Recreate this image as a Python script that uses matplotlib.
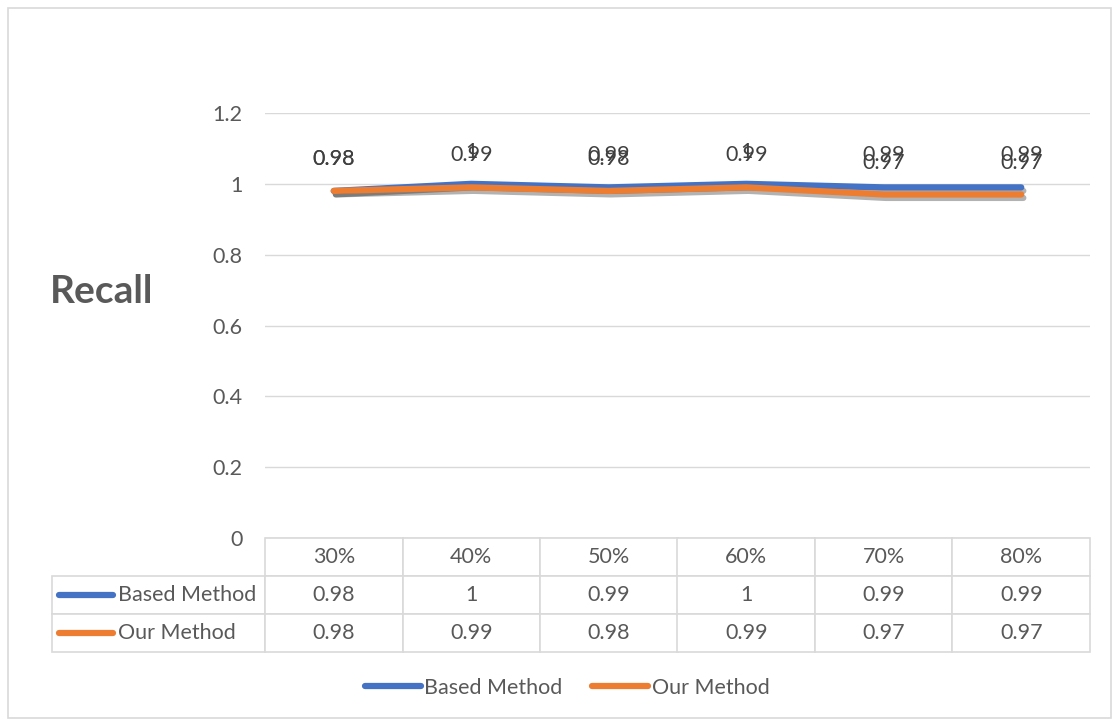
import matplotlib

matplotlib.use("Agg")
import matplotlib.pyplot as plt
import matplotlib.patheffects as pe
from matplotlib.lines import Line2D
from matplotlib.patches import Rectangle

categories = ["30%", "40%", "50%", "60%", "70%", "80%"]
based_method = [0.98, 1, 0.99, 1, 0.99, 0.99]
our_method = [0.98, 0.99, 0.98, 0.99, 0.97, 0.97]
series_names = ["Based Method", "Our Method"]
series_colors = ["#4472C4", "#ED7D31"]
y_ticks = [0, 0.2, 0.4, 0.6, 0.8, 1, 1.2]

plt.rcParams["font.family"] = ["Lato", "DejaVu Sans"]
TXT = "#595959"
GRID = "#d9d9d9"
FS = 15.5

W, H = 1112, 719
fig = plt.figure(figsize=(W / 100, H / 100), dpi=100)

# outer chart frame
fig.patches.append(Rectangle((8 / W, 1 - 718 / H), 1103 / W, 710 / H, transform=fig.transFigure,
                             fill=False, edgecolor=GRID, lw=1.2))

x0, x1, ytop, ybot = 265, 1090, 113, 538
ax = fig.add_axes([x0 / W, 1 - ybot / H, (x1 - x0) / W, (ybot - ytop) / H])
ax.set_xlim(-0.5, len(categories) - 0.5)
ax.set_ylim(0, 1.2)
ax.set_yticks(y_ticks)
ax.set_yticklabels([f"{v:g}" for v in y_ticks])
ax.tick_params(axis="y", length=0, pad=16, labelsize=FS, labelcolor=TXT)
ax.set_xticks([])
for s in ax.spines.values():
    s.set_visible(False)
ax.grid(axis="y", color=GRID, lw=1)
ax.set_axisbelow(True)

xs = list(range(len(categories)))
shadow = [pe.SimpleLineShadow(offset=(1.5, -2.5), shadow_color="black", alpha=0.3), pe.Normal()]
for vals, name, col in zip([based_method, our_method], series_names, series_colors):
    ax.plot(xs, vals, color=col, lw=4.5, solid_capstyle="round", solid_joinstyle="round",
            label=name, path_effects=shadow, zorder=3)
    for x, v in zip(xs, vals):
        ax.annotate(f"{v:g}", (x, v), xytext=(0, 23), textcoords="offset points",
                    ha="center", va="center", fontsize=FS, color="#404040")

# data table under the plot
cell_text = [[""] + categories]
for name, vals in zip(series_names, [based_method, our_method]):
    cell_text.append([name] + [f"{v:g}" for v in vals])
left_w = (x0 - 52) / (x1 - x0)
tbl_h = (652 - ybot) / (ybot - ytop)
tbl = ax.table(cellText=cell_text, cellLoc="center",
               colWidths=[213] + [137.5] * len(categories),
               bbox=[-left_w, -tbl_h, 1 + left_w, tbl_h])
tbl.auto_set_font_size(False)
tbl.set_fontsize(FS)
for (r, c), cell in tbl.get_celld().items():
    cell.set_edgecolor(GRID)
    cell.set_linewidth(1.2)
    cell.get_text().set_color(TXT)
    if r == 0 and c == 0:
        cell.visible_edges = ""
    if c == 0 and r > 0:
        cell._loc = "left"
        cell.PAD = (118 - 52) / 213
        cell.get_text().set_ha("left")

row_h = tbl_h / 3
for i, col in enumerate(series_colors):
    yc = -row_h * (i + 1.5)
    ax.add_line(Line2D([(59 - x0) / (x1 - x0), (113 - x0) / (x1 - x0)], [yc, yc],
                       transform=ax.transAxes, color=col, lw=4.5, solid_capstyle="round",
                       clip_on=False))

fig.text(102 / W, 1 - 291 / H, "Recall", fontsize=28, fontweight="bold", color=TXT,
         ha="center", va="center")

handles = [Line2D([], [], color=c, lw=4.5, solid_capstyle="round") for c in series_colors]
fig.legend(handles, series_names, loc="center", bbox_to_anchor=(567 / W, 1 - 688 / H),
           ncol=2, frameon=False, fontsize=FS, labelcolor=TXT, handlelength=2.6,
           handletextpad=0.15, columnspacing=1.4)

fig.savefig("out.png", dpi=100)
